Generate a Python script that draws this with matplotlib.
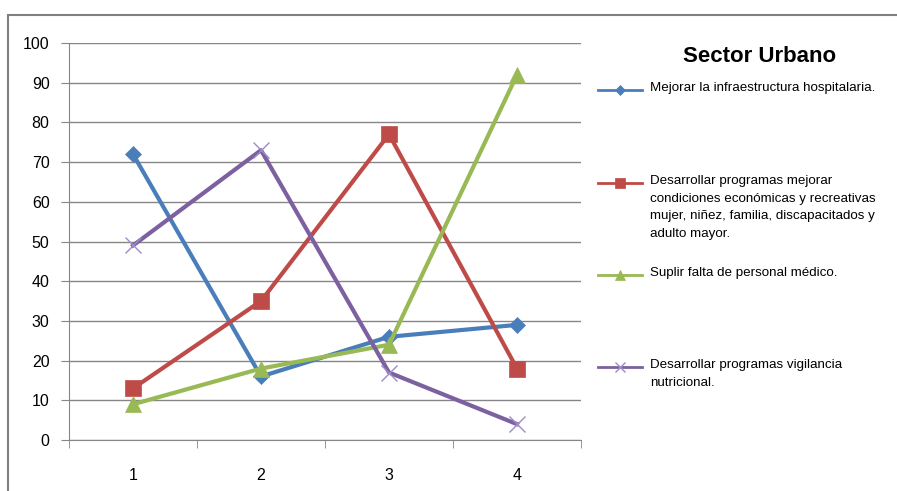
import matplotlib.pyplot as plt
from matplotlib.lines import Line2D
from matplotlib.patches import Rectangle

plt.rcParams['font.family'] = ['Liberation Sans Narrow', 'Liberation Sans', 'DejaVu Sans']

categorias = ['1', '2', '3', '4']
infraestructura = [72, 16, 26, 29]
programas_mujer = [13, 35, 77, 18]
personal_medico = [9, 18, 24, 92]
vigilancia = [49, 73, 17, 4]

etiquetas = [
    'Mejorar la infraestructura hospitalaria.',
    'Desarrollar programas mejorar\ncondiciones económicas y recreativas\nmujer, niñez, familia, discapacitados y\nadulto mayor.',
    'Suplir falta de personal médico.',
    'Desarrollar programas vigilancia\nnutricional.',
]
colores = ['#4A7EBB', '#BE4B48', '#98B954', '#7D60A0']
marcadores = ['D', 's', '^', 'x']
tam_marcador = [8, 11, 11, 11]

fig = plt.figure(figsize=(8.97, 4.91), dpi=100)
fig.add_artist(Rectangle((8 / 897, -0.1), 1.2, 1 - 15 / 491 + 0.1, transform=fig.transFigure,
                         fill=False, edgecolor='#808080', lw=1.5))
ax = fig.add_axes([69 / 897, 1 - 440 / 491, 512 / 897, 397 / 491])

x = range(len(categorias))
series = [infraestructura, programas_mujer, personal_medico, vigilancia]
for i, s in enumerate(series):
    mcolor = '#9E8CC8' if marcadores[i] == 'x' else colores[i]
    ax.plot(x, s, color=colores[i], lw=3, marker=marcadores[i], ms=tam_marcador[i],
            markerfacecolor=mcolor, markeredgecolor=mcolor,
            markeredgewidth=1 if marcadores[i] == 'x' else 0.5, zorder=3)

ax.set_xlim(-0.5, 3.5)
ax.set_ylim(0, 100)
ax.set_yticks(range(0, 101, 10))
ax.set_xticks(x)
ax.set_xticklabels(categorias)
ax.set_xticks([-0.5, 0.5, 1.5, 2.5, 3.5], minor=True)
ax.tick_params(axis='x', which='major', length=0, pad=20, labelsize=11.5)
ax.tick_params(axis='x', which='minor', length=6, color='#868686', direction='out')
ax.tick_params(axis='y', length=6, color='#868686', labelsize=11.5, pad=8)
ax.grid(axis='y', color='#868686', lw=1)
for lado in ['top', 'right']:
    ax.spines[lado].set_visible(False)
for lado in ['left', 'bottom']:
    ax.spines[lado].set_color('#868686')
ax.set_axisbelow(True)

fig.text(760 / 897, 1 - 57 / 491, 'Sector Urbano', ha='center', va='center',
         fontsize=16, fontweight='bold')
ys = [90, 183, 275, 367]
for i, etiqueta in enumerate(etiquetas):
    yf = 1 - ys[i] / 491
    mcolor = '#9E8CC8' if marcadores[i] == 'x' else colores[i]
    fig.add_artist(Line2D([598 / 897, 642 / 897], [yf, yf], color=colores[i], lw=2,
                          transform=fig.transFigure))
    fig.add_artist(Line2D([620 / 897], [yf], marker=marcadores[i], ms=tam_marcador[i] * 0.7,
                          color=mcolor, markeredgewidth=1 if marcadores[i] == 'x' else 0.5,
                          transform=fig.transFigure))
    fig.text(650 / 897, yf + 8 / 491, etiqueta, ha='left', va='top', fontsize=9.6,
             linespacing=1.62)

fig.savefig('out.png', dpi=100)
